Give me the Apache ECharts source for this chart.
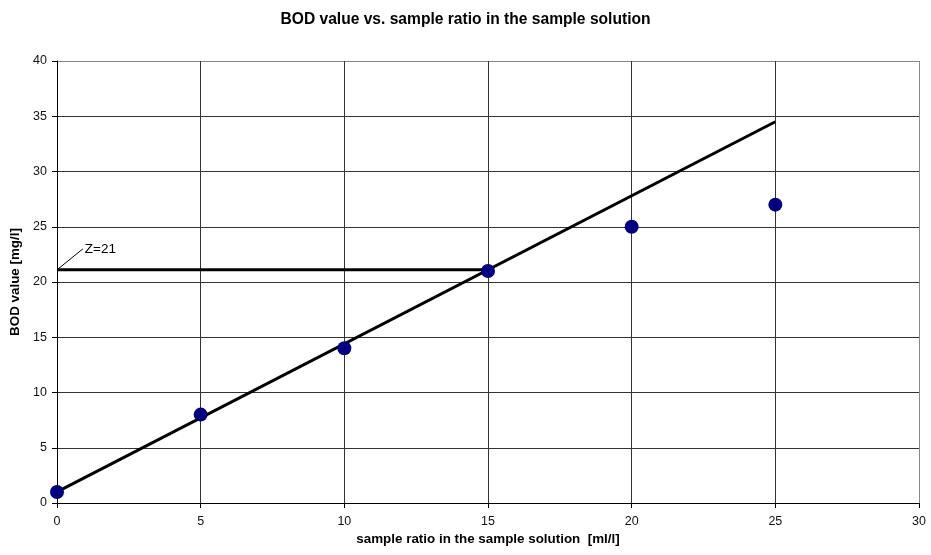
<!DOCTYPE html>
<html><head><meta charset="utf-8">
<script src="https://cdn.jsdelivr.net/npm/echarts@6/dist/echarts.min.js"></script>
<style>html,body{margin:0;padding:0;background:#fff}#c{width:931px;height:555px}</style>
</head><body><div id="c"></div>
<script>
var sampleRatio = [0, 5, 10, 15, 20, 25];
var bodValues = [1, 8, 14, 21, 25, 27];
var fitLine = [[0, 1], [25, 34.5]];
var zLine = [[0, 21.1], [15, 21.1]];
var zLeader = [[0, 21.1], [0.9, 23.0]];
var zLabel = 'Z=21';
var titleText = 'BOD value vs. sample ratio in the sample solution';
var xName = 'sample ratio in the sample solution  [ml/l]';
var yName = 'BOD value [mg/l]';

var font = 'Liberation Sans, Arial, sans-serif';
var dark = '#333', light = '#888';
var chart = echarts.init(document.getElementById('c'));
chart.setOption({
  animation: false,
  title: { text: titleText, left: 'center', top: 7, textStyle: { fontFamily: font, fontSize: 15.6, fontWeight: 'bold', color: '#000' } },
  grid: { left: 57, right: 12, top: 61, bottom: 52 },
  xAxis: {
    type: 'value', min: 0, max: 30, interval: 5,
    name: xName, nameLocation: 'middle', nameGap: 28,
    nameTextStyle: { fontFamily: font, fontSize: 13.4, fontWeight: 'bold', color: '#000' },
    axisLine: { lineStyle: { color: '#000', width: 1 } },
    axisTick: { show: true, length: 5, lineStyle: { color: '#000' } },
    axisLabel: { fontFamily: font, fontSize: 12.5, color: '#111', margin: 12 },
    splitLine: { show: true, lineStyle: { color: [dark, dark, dark, dark, dark, dark, light], width: 1 } }
  },
  yAxis: {
    type: 'value', min: 0, max: 40, interval: 5,
    name: yName, nameLocation: 'middle', nameGap: 30, nameRotate: 90,
    nameTextStyle: { fontFamily: font, fontSize: 13.4, fontWeight: 'bold', color: '#000' },
    axisLine: { show: true, lineStyle: { color: '#000', width: 1 } },
    axisTick: { show: true, length: 5, lineStyle: { color: '#000' } },
    axisLabel: { fontFamily: font, fontSize: 12.5, color: '#111', margin: 10 },
    splitLine: { show: true, lineStyle: { color: [dark, dark, dark, dark, dark, dark, dark, dark, light], width: 1 } }
  },
  series: [
    { type: 'line', data: zLine, symbol: 'none', lineStyle: { color: '#000', width: 3 }, z: 3 },
    { type: 'line', data: fitLine, symbol: 'none', lineStyle: { color: '#000', width: 3 }, z: 3 },
    { type: 'line', data: zLeader, symbol: 'none', lineStyle: { color: '#000', width: 1 }, z: 3,
      endLabel: { show: true, formatter: zLabel, fontFamily: font, fontSize: 13.5, color: '#000', distance: 2 } },
    { type: 'scatter', data: sampleRatio.map(function (x, i) { return [x, bodValues[i]]; }),
      symbol: 'circle', symbolSize: 14, itemStyle: { color: '#000080', opacity: 1 }, z: 4 }
  ]
});
</script></body></html>
